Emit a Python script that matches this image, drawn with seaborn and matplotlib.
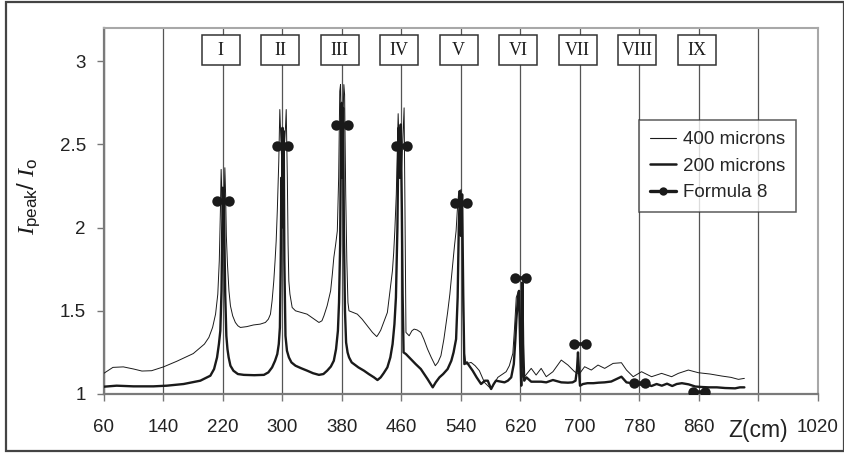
import numpy as np
import pandas as pd
import matplotlib
matplotlib.use('Agg')
import matplotlib.pyplot as plt
import seaborn as sns
from matplotlib.lines import Line2D
from matplotlib.patches import Rectangle

# ---------------- data ----------------
z_400 = [60, 72, 86, 100, 111, 124, 140, 158, 180, 195, 201, 206, 210,
         213, 215, 216.5, 217.5, 218.5, 220, 221.5, 222.5, 223.5, 224.5, 226, 228, 230, 233, 236.6, 240, 243.4,
         252, 261, 270, 277, 281, 283.8, 286, 288.3, 290, 291.5, 293, 295, 296.4, 298, 300, 302, 304, 305,
         306.5, 307.5, 308.5, 310, 313, 317.5, 325, 333, 341, 349, 353, 355.7, 360, 364.7, 367, 369, 371.5,
         373.7, 375.5, 377, 378, 379.5, 381, 382.5, 383.5, 385, 386.5, 388, 389.4, 395, 400.6, 407, 414, 421,
         426.7, 429, 432, 436, 441, 444, 447.8, 449.5, 451, 453, 455.5, 457.5, 459.5, 461.5, 463.5, 464.5,
         465.5, 466, 470.3, 474, 477, 481, 486, 490, 495, 500, 505.5, 509, 513, 517, 522, 525, 529, 531,
         533.4, 535, 537, 538.5, 540, 541.5, 543, 544.5, 546.7, 553.5, 559, 564.7, 571.5, 576, 580.5, 589.5,
         600.7, 605, 609.7, 612, 614.3, 617.3, 619, 621, 623, 625.4, 634.4, 641, 647.8, 654.6, 663.6, 674.8,
         683.8, 692.7, 699, 706.2, 715.2, 724.2, 733.2, 744.5, 755.7, 762.5, 771.5, 782.7, 796.2, 809.7,
         823.2, 832.2, 845.7, 859.1, 875, 890.6, 903, 913, 921]
ratio_400 = [1.125, 1.16, 1.163, 1.15, 1.138, 1.14, 1.163, 1.197, 1.243, 1.30, 1.34, 1.40, 1.48,
             1.60, 1.80, 2.10, 2.35, 2.20, 2.05, 2.15, 2.36, 2.20, 1.95, 1.78, 1.62, 1.53, 1.47, 1.43, 1.41, 1.40,
             1.405, 1.415, 1.42, 1.43, 1.45, 1.48, 1.56, 1.68, 1.80, 1.92, 2.10, 2.40, 2.71, 2.50, 2.30, 2.45, 2.60, 2.71,
             2.30, 1.90, 1.68, 1.60, 1.52, 1.50, 1.49, 1.48, 1.455, 1.43, 1.44, 1.47, 1.53, 1.62, 1.72, 1.82, 1.90,
             1.98, 2.30, 2.82, 2.86, 2.50, 2.60, 2.86, 2.80, 2.20, 1.80, 1.55, 1.50, 1.49, 1.48, 1.45, 1.41, 1.37,
             1.345, 1.36, 1.383, 1.43, 1.49, 1.60, 1.74, 1.85, 1.98, 2.20, 2.685, 2.40, 2.30, 2.50, 2.72, 2.20,
             1.60, 1.37, 1.35, 1.38, 1.39, 1.385, 1.37, 1.33, 1.27, 1.22, 1.17, 1.19, 1.23, 1.33, 1.49, 1.60, 1.79, 1.88,
             1.98, 2.10, 2.22, 2.05, 2.23, 2.00, 1.50, 1.25, 1.18, 1.19, 1.17, 1.14, 1.07, 1.05, 1.03, 1.10,
             1.134, 1.17, 1.244, 1.40, 1.58, 1.62, 1.45, 1.20, 1.10, 1.104, 1.154, 1.114, 1.154, 1.104, 1.134, 1.204,
             1.174, 1.134, 1.12, 1.164, 1.144, 1.174, 1.154, 1.184, 1.188, 1.144, 1.104, 1.134, 1.104, 1.124,
             1.104, 1.124, 1.144, 1.128, 1.12, 1.108, 1.10, 1.088, 1.094]

z_200 = [60, 77, 99.5, 126.5, 144.5, 167, 189.5, 203, 208, 212, 214.5, 216.4, 218, 219, 219.8, 220.5, 221.2,
         222, 223, 224.5, 226, 227.6, 230, 234, 240, 248, 262, 275, 281, 286, 290, 293, 295, 296.5, 297.5,
         298.5, 299.2, 300, 300.8, 301.6, 302.5, 304, 306, 308.6, 312, 317.5, 325, 333.3, 341, 349, 355, 360,
         365, 369, 372, 374.5, 376, 377.5, 378.5, 379.5, 380.5, 381.5, 382.5, 384, 385.5, 387.5, 389.5, 393,
         396, 402, 409.6, 416, 423, 427.7, 432, 436, 441, 445, 448, 450.5, 452.5, 454.5, 456, 457.5, 459,
         460.5, 461.5, 462.8, 466, 472.5, 479, 486, 495, 502, 506, 511, 516, 522, 527, 530, 533.4, 535.5, 537,
         538.5, 540, 541.5, 543, 544.5, 548, 551, 555.7, 561, 567, 572, 576, 580.5, 584, 587, 593, 598.5, 603,
         607.5, 611, 613, 614.5, 616.6, 618, 619.5, 621, 622.5, 623.5, 625, 628, 634.4, 641, 647.8, 654.6,
         663.6, 674.8, 683.8, 690, 694, 696, 697.3, 698.5, 700, 704, 710, 718, 725, 733, 742, 749, 755.7,
         762.5, 769, 776, 783, 790, 796, 803, 810, 817, 824, 830, 837, 846, 855, 864, 873, 884, 895, 908.5,
         915, 921]
ratio_200 = [1.044, 1.05, 1.046, 1.046, 1.05, 1.06, 1.08, 1.11, 1.15, 1.22, 1.30, 1.38, 1.62, 2.00, 2.24, 1.95, 2.23,
             1.90, 1.60, 1.35, 1.27, 1.22, 1.17, 1.14, 1.12, 1.115, 1.113, 1.115, 1.13, 1.16, 1.20, 1.24, 1.30, 1.40, 1.74,
             2.30, 2.00, 2.60, 2.10, 2.58, 1.80, 1.35, 1.26, 1.22, 1.19, 1.17, 1.155, 1.14, 1.125, 1.115, 1.12, 1.14,
             1.165, 1.20, 1.27, 1.38, 1.55, 1.90, 2.50, 2.75, 2.30, 2.72, 2.00, 1.50, 1.31, 1.25, 1.22, 1.19,
             1.18, 1.16, 1.14, 1.12, 1.10, 1.084, 1.10, 1.125, 1.16, 1.22, 1.30, 1.42, 1.58, 2.00, 2.60, 2.30, 2.62,
             2.10, 1.60, 1.25, 1.24, 1.21, 1.18, 1.15, 1.09, 1.04, 1.07, 1.10, 1.12, 1.15, 1.20, 1.25, 1.33, 1.58, 2.00,
             2.22, 1.95, 2.20, 1.60, 1.18, 1.19, 1.17, 1.14, 1.10, 1.06, 1.08, 1.08, 1.03, 1.06, 1.08, 1.075, 1.07, 1.08,
             1.10, 1.18, 1.32, 1.45, 1.58, 1.62, 1.30, 1.05, 1.67, 1.30, 1.08, 1.10, 1.074, 1.074, 1.074, 1.07,
             1.084, 1.07, 1.068, 1.07, 1.08, 1.15, 1.25, 1.15, 1.05, 1.06, 1.065, 1.065, 1.068, 1.07, 1.075, 1.09, 1.104,
             1.07, 1.065, 1.06, 1.055, 1.06, 1.048, 1.06, 1.05, 1.062, 1.048, 1.06, 1.065, 1.058, 1.045, 1.042, 1.04, 1.04, 1.036, 1.034,
             1.04, 1.04]

formula_z = [220, 300, 380, 460, 540, 620, 700, 780, 860]
formula_ratio = [2.16, 2.49, 2.615, 2.49, 2.15, 1.70, 1.30, 1.064, 1.01]
mode_labels = ['I', 'II', 'III', 'IV', 'V', 'VI', 'VII', 'VIII', 'IX']

x_ticks = [60, 140, 220, 300, 380, 460, 540, 620, 700, 780, 860, 940, 1020]
x_tick_labels = ['60', '140', '220', '300', '380', '460', '540', '620', '700', '780', '860', 'Z(cm)', '1020']
y_ticks = [1, 1.5, 2, 2.5, 3]
y_tick_labels = ['1', '1.5', '2', '2.5', '3']
legend_labels = ['400 microns', '200 microns', 'Formula 8']

# ---------------- style ----------------
DUMBBELL_HALF = 8
BOX_W = 51
BOX_H = 0.18
BOX_Y = 3.065
INK = '#1a1a1a'

sns.set_theme(style='white')
plt.rcParams['font.family'] = ['Liberation Sans', 'DejaVu Sans']
plt.rcParams['mathtext.fontset'] = 'custom'
plt.rcParams['mathtext.it'] = 'Liberation Serif:italic'
plt.rcParams['mathtext.rm'] = 'Liberation Sans'

fig = plt.figure(figsize=(8.45, 4.53), dpi=100)
ax = fig.add_axes([104 / 845, 59 / 453, 714 / 845, 366 / 453])

df400 = pd.DataFrame({'z': z_400, 'ratio': ratio_400})
df200 = pd.DataFrame({'z': z_200, 'ratio': ratio_200})
sns.lineplot(data=df400, x='z', y='ratio', sort=False, estimator=None, color=INK, lw=0.7, ax=ax, zorder=3)
sns.lineplot(data=df200, x='z', y='ratio', sort=False, estimator=None, color=INK, lw=1.7, ax=ax, zorder=4)

rows = []
for i, (zc, r) in enumerate(zip(formula_z, formula_ratio)):
    rows.append({'z': zc - DUMBBELL_HALF, 'ratio': r, 'mode': i})
    rows.append({'z': zc + DUMBBELL_HALF, 'ratio': r, 'mode': i})
dff = pd.DataFrame(rows)
sns.lineplot(data=dff, x='z', y='ratio', units='mode', estimator=None, sort=False, color=INK, lw=2.6,
             marker='o', markersize=7.5, markeredgewidth=0, ax=ax, zorder=5, legend=False)

ax.set_xlim(60, 1020)
ax.set_ylim(1, 3.2)
ax.set_xticks(x_ticks)
ax.set_xticklabels(x_tick_labels)
ax.set_yticks(y_ticks)
ax.set_yticklabels(y_tick_labels)
for lab in ax.get_xticklabels() + ax.get_yticklabels():
    lab.set_fontsize(13.5)
    lab.set_color('#222222')
ax.get_xticklabels()[11].set_fontsize(16.5)

ax.tick_params(axis='x', direction='out', length=5, width=1, color='#777777', pad=13, bottom=True)
ax.tick_params(axis='y', direction='out', length=5, width=1, color='#777777', pad=8, left=True)
for s in ['left', 'bottom']:
    ax.spines[s].set_color('#7a7a7a')
    ax.spines[s].set_linewidth(1.6)
for s in ['top', 'right']:
    ax.spines[s].set_color('#a8a8a8')
    ax.spines[s].set_linewidth(1.5)

ax.xaxis.grid(True, color='#555555', lw=0.9)
ax.yaxis.grid(False)
ax.set_axisbelow(True)

for zc, lab in zip(formula_z, mode_labels):
    ax.add_patch(Rectangle((zc - 3 - BOX_W / 2, BOX_Y - BOX_H / 2), BOX_W, BOX_H, facecolor='white',
                           edgecolor='#333333', lw=1.1, zorder=6))
    ax.text(zc - 3, BOX_Y, lab, ha='center', va='center', fontsize=13, family='Liberation Serif',
            color=INK, zorder=7)

ax.set_xlabel('')
ax.set_ylabel(r'$\mathit{I}_{\mathrm{peak}}\mathrm{/}\ \mathit{I}_{\mathrm{o}}$', fontsize=17.5, color=INK)
ax.yaxis.set_label_coords(-0.087, 0.54)

handles = [Line2D([], [], color=INK, lw=0.8),
           Line2D([], [], color=INK, lw=1.8),
           Line2D([], [], color=INK, lw=2.4, marker='o', markersize=6, markeredgewidth=0)]
leg = ax.legend(handles, legend_labels, loc='upper left', bbox_to_anchor=(0.749, 0.749), borderaxespad=0,
                fontsize=13.5, frameon=True, fancybox=False, handlelength=1.4, handletextpad=0.35,
                labelspacing=0.5, borderpad=0.6)
leg.get_frame().set_edgecolor('#333333')
leg.get_frame().set_linewidth(1.1)
leg.set_zorder(8)

fig.patches.append(Rectangle((6 / 845, 2 / 453), 838 / 845, 449 / 453, transform=fig.transFigure,
                             fill=False, edgecolor='#444444', lw=1.6))

fig.savefig('out.png', dpi=100)
